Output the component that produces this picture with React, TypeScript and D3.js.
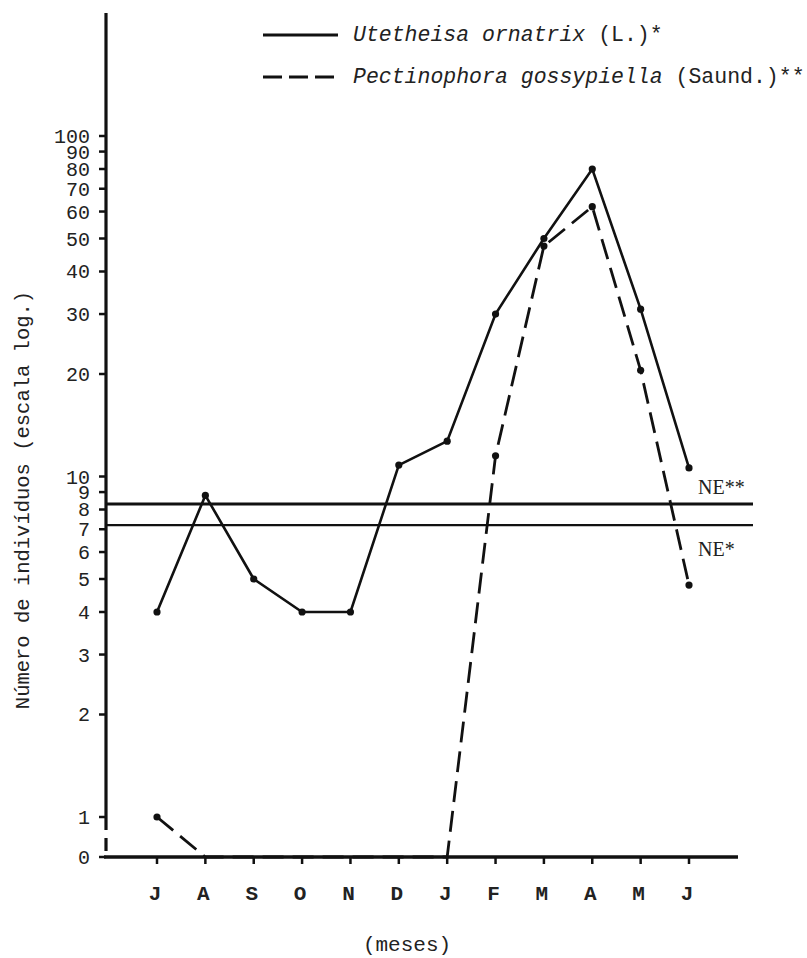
import React from "react";
import * as d3 from "d3";

const monthKeys = ["Jul", "Ago", "Set", "Out", "Nov", "Dez", "Jan", "Fev", "Mar", "Abr", "Mai", "Jun"];
const monthLabels = ["J", "A", "S", "O", "N", "D", "J", "F", "M", "A", "M", "J"];
const utetheisa = [4, 8.8, 5, 4, 4, 10.8, 12.7, 30, 50, 80, 31, 10.6];
const pectinophora = [1, 0, 0, 0, 0, 0, 0, 11.5, 47.5, 62, 20.5, 4.8];
const pectinoMarkers = [true, false, false, false, false, false, false, true, true, true, true, true];
const yTicks = [0, 1, 2, 3, 4, 5, 6, 7, 8, 9, 10, 20, 30, 40, 50, 60, 70, 80, 90, 100];
const neStar2 = 8.3;
const neStar1 = 7.2;

const W = 807;
const H = 958;
const axisX = 106;
const baseY = 857;
const axisTop = 13;
const axisRight = 738;

const x = d3.scalePoint<string>().domain(monthKeys).range([157, 689]);
const yLog = d3.scaleLog().domain([1, 100]).range([817, 136]);
const y = (v: number) => (v <= 0 ? baseY : yLog(v));

const mono = "'Liberation Mono', 'DejaVu Sans Mono', monospace";

export default function App() {
  const lineGen = d3
    .line<number>()
    .x((_, i) => x(monthKeys[i]) as number)
    .y((d) => y(d));

  const uPath = lineGen(utetheisa) as string;
  const pPath = lineGen(pectinophora) as string;

  return (
    <div style={{ position: "absolute", left: 0, top: 0 }}>
      <svg width={W} height={H} viewBox={`0 0 ${W} ${H}`} style={{ display: "block", background: "#fff" }}>
        <rect x={0} y={0} width={W} height={H} fill="#fff" />

        {/* NE threshold lines */}
        <line x1={axisX} x2={753} y1={y(neStar2)} y2={y(neStar2)} stroke="#111" strokeWidth={3} />
        <line x1={axisX} x2={753} y1={y(neStar1)} y2={y(neStar1)} stroke="#111" strokeWidth={2.2} />
        <text x={698} y={y(neStar2) - 10} fontFamily="'Liberation Serif', serif" fontSize={20} fill="#222">NE**</text>
        <text x={698} y={y(neStar1) + 31} fontFamily="'Liberation Serif', serif" fontSize={20} fill="#222">NE*</text>

        {/* series */}
        <path d={pPath} fill="none" stroke="#111" strokeWidth={2.8} strokeDasharray="21,9" />
        <path d={uPath} fill="none" stroke="#111" strokeWidth={2.6} />
        {utetheisa.map((v, i) => (
          <circle key={"u" + i} cx={x(monthKeys[i]) as number} cy={y(v)} r={3.6} fill="#111" />
        ))}
        {pectinophora.map((v, i) =>
          pectinoMarkers[i] ? (
            <circle key={"p" + i} cx={x(monthKeys[i]) as number} cy={y(v)} r={3.6} fill="#111" />
          ) : null
        )}

        {/* y axis */}
        <line x1={axisX} x2={axisX} y1={axisTop} y2={y(1)} stroke="#111" strokeWidth={3.2} />
        <line x1={axisX} x2={axisX} y1={y(1)} y2={baseY} stroke="#111" strokeWidth={3.2} strokeDasharray="13,8" />
        {yTicks.map((t) => (
          <g key={"yt" + t}>
            <line x1={axisX - 7} x2={axisX} y1={y(t)} y2={y(t)} stroke="#111" strokeWidth={2.5} />
            <text
              x={90}
              y={y(t)}
              dy="0.35em"
              textAnchor="end"
              fontFamily={mono}
              fontSize={20}
              fill="#222"
            >
              {t}
            </text>
          </g>
        ))}

        {/* x axis */}
        <line x1={axisX - 2} x2={axisRight} y1={baseY} y2={baseY} stroke="#111" strokeWidth={3.4} />
        {monthKeys.map((m, i) => (
          <g key={"xt" + m}>
            <line x1={x(m) as number} x2={x(m) as number} y1={baseY} y2={baseY + 7} stroke="#111" strokeWidth={2.5} />
            <text
              x={(x(m) as number) - 2}
              y={900}
              textAnchor="middle"
              fontFamily={mono}
              fontSize={21}
              fontWeight="bold"
              fill="#222"
            >
              {monthLabels[i]}
            </text>
          </g>
        ))}
        <text x={407} y={951} textAnchor="middle" fontFamily={mono} fontSize={21} fill="#222">
          (meses)
        </text>

        {/* y axis title */}
        <text
          transform={`translate(29,500) rotate(-90)`}
          textAnchor="middle"
          fontFamily={mono}
          fontSize={20.5}
          fill="#222"
        >
          Número de indivíduos (escala log.)
        </text>

        {/* legend */}
        <line x1={263} x2={338} y1={35} y2={35} stroke="#111" strokeWidth={3} />
        <text x={353} y={41} fontFamily={mono} fontSize={21.5} fill="#222">
          <tspan fontStyle="italic">Utetheisa ornatrix</tspan> (L.)*
        </text>
        <line x1={263} x2={338} y1={77} y2={77} stroke="#111" strokeWidth={3.2} strokeDasharray="19,7" />
        <text x={353} y={83} fontFamily={mono} fontSize={21.5} fill="#222">
          <tspan fontStyle="italic">Pectinophora gossypiella</tspan> (Saund.)**
        </text>
      </svg>
    </div>
  );
}
